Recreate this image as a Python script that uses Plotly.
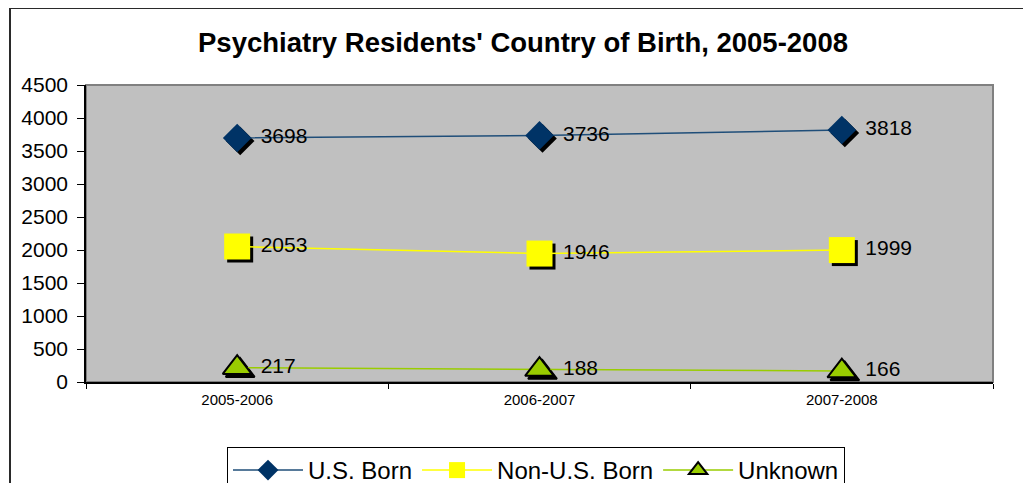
import plotly.graph_objects as go

categories = ["2005-2006", "2006-2007", "2007-2008"]
us_born = [3698, 3736, 3818]
non_us_born = [2053, 1946, 1999]
unknown = [217, 188, 166]
series_names = ["U.S. Born", "Non-U.S. Born", "Unknown"]
y_ticks = [0, 500, 1000, 1500, 2000, 2500, 3000, 3500, 4000, 4500]

W, H = 1031, 483
OFF = 8  # default page body margin
L, R, T, B = 86 - OFF, 38 + OFF, 85 - OFF, 101 + OFF
plot_w = W - L - R
plot_h = H - T - B
y_max = 4500
x_pos = list(range(len(categories)))
# shadow offset (3 px right, 3 px down) in data units
dx = 3 * 3.0 / plot_w
dy = 3 * y_max / plot_h

FONT = "Arial, 'Liberation Sans', sans-serif"

styles = [
    dict(symbol="diamond", size=22, color="#003366", line=dict(width=0), lc="#1F4E79"),
    dict(symbol="square", size=26, color="#FFFF00", line=dict(width=0), lc="#FFFF00"),
    dict(symbol="triangle-up", size=25, color="#99CC00", line=dict(width=2, color="#000000"), lc="#99CC00"),
]
data = [us_born, non_us_born, unknown]

fig = go.Figure()

# shadows
for vals, st in zip(data, styles):
    fig.add_trace(go.Scatter(
        x=[x + dx for x in x_pos], y=[v - dy for v in vals], mode="markers",
        marker=dict(symbol=st["symbol"], size=st["size"], color="#000000",
                    line=dict(width=st["line"]["width"], color="#000000")),
        showlegend=False, hoverinfo="skip"))

# main series
for vals, st, name in zip(data, styles, series_names):
    fig.add_trace(go.Scatter(
        x=x_pos, y=vals, mode="lines+markers", name=name,
        line=dict(color=st["lc"], width=1.5),
        marker=dict(symbol=st["symbol"], size=st["size"], color=st["color"], line=st["line"])))

# data labels
for vals in data:
    fig.add_trace(go.Scatter(
        x=x_pos, y=vals, mode="markers+text", text=[str(v) for v in vals],
        textposition="middle right",
        textfont=dict(family=FONT, size=21, color="#000000"),
        marker=dict(size=36, color="rgba(0,0,0,0)"),
        showlegend=False, hoverinfo="skip"))

# outer frame
fig.add_shape(type="rect", xref="paper", yref="paper",
              x0=(10 - OFF - L) / plot_w, x1=1.2, y0=-1, y1=(H - B) / plot_h,
              line=dict(color="#2a2a2a", width=2), fillcolor="rgba(0,0,0,0)", layer="below")
# plot area border
fig.add_shape(type="rect", xref="paper", yref="paper", x0=0, x1=1, y0=0, y1=1,
              line=dict(color="#808080", width=2), fillcolor="rgba(0,0,0,0)", layer="below")

fig.update_layout(
    width=W, height=H,
    margin=dict(l=L, r=R, t=T, b=B),
    paper_bgcolor="#FFFFFF",
    plot_bgcolor="#C0C0C0",
    title=dict(text="<b>Psychiatry Residents' Country of Birth, 2005-2008</b>",
               x=(523 - OFF) / W, xanchor="center", y=1 - (42 - OFF) / H, yanchor="middle",
               font=dict(family=FONT, size=27.5, color="#000000")),
    font=dict(family=FONT, color="#000000"),
    xaxis=dict(range=[-0.5, 2.5], tickmode="array", tickvals=x_pos, ticktext=categories,
               ticks="", tickfont=dict(size=15), showgrid=False, zeroline=False,
               showline=True, linecolor="#000000", linewidth=1.5, ticklabelstandoff=3,
               minor=dict(tickmode="array", tickvals=[-0.5, 0.5, 1.5, 2.5], ticks="outside",
                          ticklen=5, tickcolor="#000000", showgrid=False),
               fixedrange=True),
    yaxis=dict(range=[0, y_max], tickmode="array", tickvals=y_ticks,
               ticks="outside", ticklen=7, tickcolor="#000000", tickfont=dict(size=21),
               ticklabelstandoff=5,
               showgrid=False, zeroline=False, showline=True, linecolor="#000000", linewidth=1.5,
               fixedrange=True),
    legend=dict(orientation="h", xref="container", x=(536 - OFF) / W, xanchor="center",
                yref="container", y=1 - (447 - OFF) / H, yanchor="top",
                bordercolor="#000000", borderwidth=1, bgcolor="#FFFFFF",
                font=dict(family=FONT, size=24, color="#000000"),
                itemwidth=70, traceorder="normal"),
    showlegend=True,
)

fig.write_html("out.html")
